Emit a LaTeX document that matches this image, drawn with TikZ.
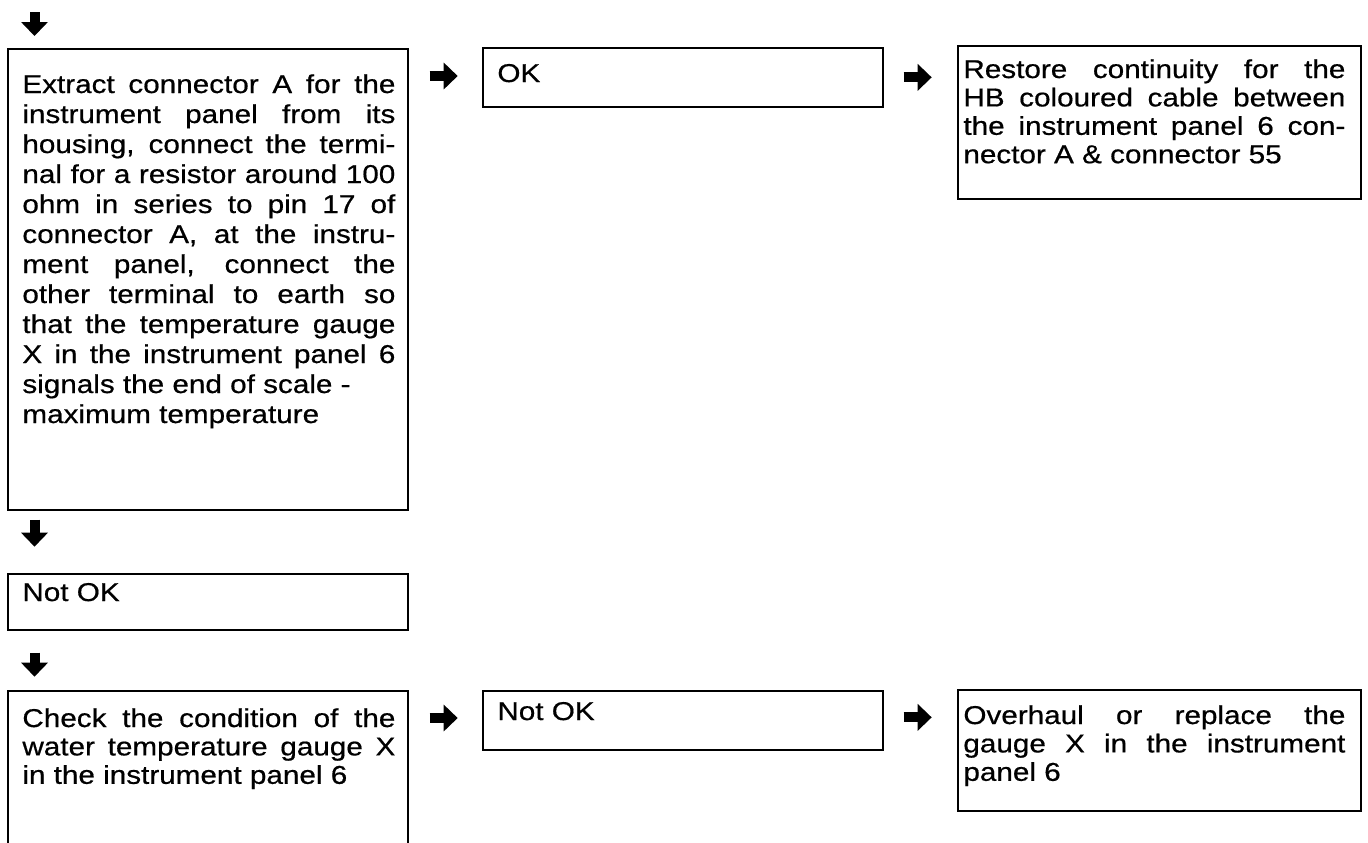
\documentclass[tikz,border=0pt]{standalone}
\usepackage{fontspec}
\setmainfont{Liberation Sans}[FakeStretch=1.15,FakeBold=0.6]
\usetikzlibrary{arrows.meta,calc}
\tikzset{
  box/.style={draw, line width=0.85pt, anchor=north west, inner sep=0pt, minimum width=200pt},
  rbox/.style={box, minimum width=201.5pt},
  txt/.style={anchor=base west, inner sep=0pt, font=\fontsize{12.9pt}{15pt}\selectfont},
  tighttxt/.style={txt, font=\fontsize{12.9pt}{14.2pt}\selectfont},
  blk/.style={line width=5pt, -{Triangle[width=13pt,length=7pt]}},
}
\newcommand{\jl}[2]{\makebox[#1][s]{#2}}
\begin{document}
\begin{tikzpicture}[x=0.5pt,y=-0.5pt]
\useasboundingbox (0,0) rectangle (1368,842);
\clip (0,0) rectangle (1368,842);
% boxes
\node[box, minimum height=230.5pt] (b1) at (7,48) {};
\node[box, minimum height=28pt] (nok1) at (7,573) {};
\node[box, minimum height=105pt] (chk) at (7,690) {};
\node[box, minimum height=29.5pt] (ok) at (482,47) {};
\node[box, minimum height=29.5pt] (nok2) at (482,690) {};
\node[rbox, minimum height=76.5pt] (rs) at (957,45) {};
\node[rbox, minimum height=60.5pt] (ov) at (957,689) {};
% texts
\node[txt] (t1) at (22,93) {\parbox[t]{186.5pt}{%
\jl{186.5pt}{Extract connector A for the}\\
\jl{186.5pt}{instrument panel from its}\\
\jl{186.5pt}{housing, connect the termi-}\\
\jl{186.5pt}{nal for a resistor around 100}\\
\jl{186.5pt}{ohm in series to pin 17 of}\\
\jl{186.5pt}{connector A, at the instru-}\\
\jl{186.5pt}{ment panel, connect the}\\
\jl{186.5pt}{other terminal to earth so}\\
\jl{186.5pt}{that the temperature gauge}\\
\jl{186.5pt}{X in the instrument panel 6}\\
signals the end of scale -\\
maximum temperature}};
\node[txt] (t2) at (497,82) {OK};
\node[tighttxt] (t3) at (963,78) {\parbox[t]{191pt}{%
\jl{191pt}{Restore continuity for the}\\
\jl{191pt}{HB coloured cable between}\\
\jl{191pt}{the instrument panel 6 con-}\\
nector A \& connector 55}};
\node[txt] (t4) at (22,601) {Not OK};
\node[tighttxt] (t5) at (22,727) {\parbox[t]{186.5pt}{%
\jl{186.5pt}{Check the condition of the}\\
\jl{186.5pt}{water temperature gauge X}\\
in the instrument panel 6}};
\node[txt] (t6) at (497,720) {Not OK};
\node[tighttxt] (t7) at (963,724) {\parbox[t]{191pt}{%
\jl{191pt}{Overhaul or replace the}\\
\jl{191pt}{gauge X in the instrument}\\
panel 6}};
% arrows
\coordinate (start) at (34.5,12);
\draw[blk] (start) -- +(0,24);
\draw[blk] ($(b1.south west)+(27.5,9)$) -- +(0,27);
\draw[blk] ($(nok1.south west)+(27.5,22)$) -- +(0,24);
\draw[blk] ($(b1.north east)+(21,28)$) -- +(28,0);
\draw[blk] ($(ok.east)+(20,0)$) -- +(28,0);
\draw[blk] ($(chk.north east)+(21,28)$) -- +(28,0);
\draw[blk] ($(nok2.east)+(20,-3)$) -- +(28,0);
\end{tikzpicture}
\end{document}
